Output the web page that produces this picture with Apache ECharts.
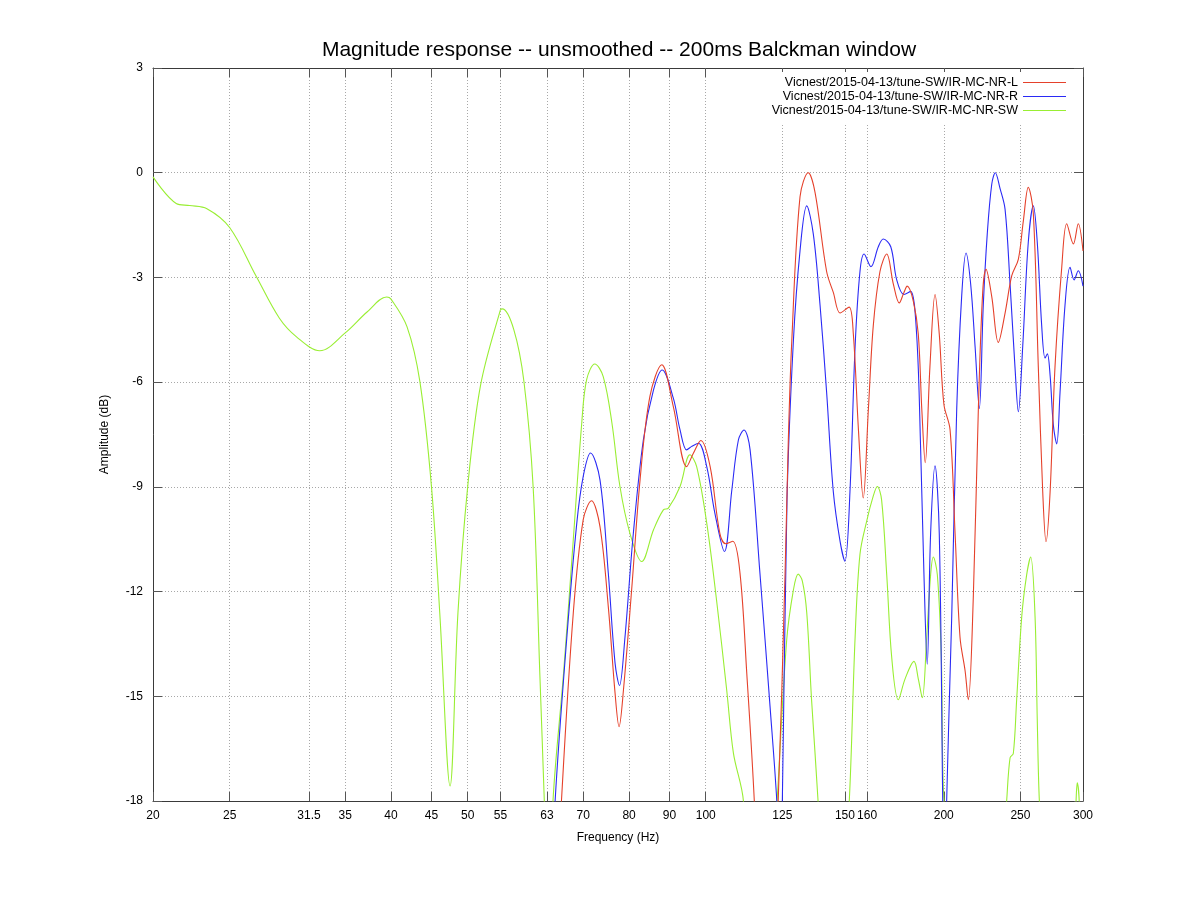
<!DOCTYPE html>
<html><head><meta charset="utf-8">
<script src="https://cdn.jsdelivr.net/npm/echarts@6/dist/echarts.min.js"></script>
<style>html,body{margin:0;padding:0;background:#fff}#c{width:1198px;height:898px}</style>
</head><body><div id="c"></div>
<script>
const titleText = 'Magnitude response -- unsmoothed -- 200ms Balckman window';
const seriesNames = ['Vicnest/2015-04-13/tune-SW/IR-MC-NR-L', 'Vicnest/2015-04-13/tune-SW/IR-MC-NR-R', 'Vicnest/2015-04-13/tune-SW/IR-MC-NR-SW'];
const seriesColors = ['#e5412b', '#2a2af5', '#99ee33'];
const xTicks = [20, 25, 31.5, 35, 40, 45, 50, 55, 63, 70, 80, 90, 100, 125, 150, 160, 200, 250, 300];

const freqL = [63.0, 65.7, 68.0, 70.0, 71.7, 73.5, 75.3, 76.8, 77.7, 78.7, 80.6, 82.6, 85.0, 88.0, 91.0, 94.6, 96.5, 98.6, 101.3, 104.2, 106.0, 108.2, 110.5, 112.7, 115.2, 119.3, 123.5, 126.0, 127.2, 128.5, 131.6, 134.8, 137.5, 142.2, 145.0, 147.9, 151.8, 153.7, 156.0, 158.2, 160.6, 162.9, 166.1, 169.4, 172.7, 175.7, 178.1, 179.8, 183.0, 185.7, 187.6, 189.5, 192.1, 195.0, 197.4, 200.1, 203.7, 206.7, 209.7, 212.8, 214.8, 218.0, 221.2, 224.0, 226.2, 230.0, 234.4, 239.1, 243.8, 248.5, 252.1, 255.8, 259.6, 263.4, 266.8, 269.4, 272.6, 276.5, 282.0, 286.1, 291.7, 295.9, 300];
const dbL = [-26, -18, -12.62, -9.94, -9.40, -10.14, -12.43, -14.91, -15.87, -14.82, -11.95, -8.80, -6.41, -5.50, -6.70, -8.42, -8.03, -7.67, -8.42, -10.33, -10.63, -10.56, -11.47, -14.34, -18, -26, -18, -11.47, -7.65, -4.79, -0.69, 0.0, -0.57, -2.83, -3.43, -4.02, -3.85, -4.62, -7.36, -9.32, -6.76, -4.38, -2.83, -2.33, -3.19, -3.73, -3.43, -3.25, -3.67, -4.62, -6.76, -8.31, -5.57, -3.49, -4.62, -6.64, -7.36, -10.33, -13.31, -14.26, -15.10, -12.12, -6.76, -3.43, -2.77, -3.55, -4.86, -4.02, -2.95, -2.48, -1.40, -0.42, -1.17, -5.57, -9.14, -10.57, -9.14, -5.57, -2.71, -1.46, -2.04, -1.46, -2.24];

const freqR = [62.0, 64.5, 66.7, 68.7, 70.0, 71.5, 73.5, 75.3, 76.8, 77.8, 79.0, 81.0, 83.4, 85.9, 88.1, 91.0, 92.8, 94.6, 96.0, 97.9, 100.3, 102.7, 105.6, 107.9, 110.0, 111.8, 113.8, 117.1, 120.6, 123.0, 124.0, 125.0, 126.7, 129.1, 131.6, 134.2, 136.8, 139.5, 142.2, 145.0, 147.9, 150.0, 152.2, 154.5, 156.7, 158.6, 161.8, 165.3, 167.7, 171.4, 174.4, 178.1, 181.6, 184.8, 187.0, 188.8, 190.6, 192.5, 195.0, 197.4, 199.4, 200.5, 201.7, 204.7, 207.7, 210.7, 213.4, 216.3, 219.1, 221.8, 224.4, 227.0, 230.0, 232.4, 235.6, 239.1, 242.6, 246.1, 248.5, 251.7, 255.8, 259.6, 262.6, 266.0, 268.6, 270.4, 272.6, 275.2, 277.9, 280.6, 284.7, 288.9, 292.3, 295.9, 300];
const dbR = [-26, -18, -13.38, -10.04, -8.70, -8.03, -8.80, -11.47, -14.05, -14.69, -13.38, -10.33, -7.65, -6.22, -5.65, -6.46, -7.37, -7.94, -7.84, -7.75, -8.42, -9.75, -10.85, -9.09, -7.65, -7.37, -7.94, -11.47, -15.29, -18, -20, -18, -9.4, -4.79, -2.24, -0.95, -1.76, -3.79, -6.29, -9.14, -10.57, -11.13, -9.14, -4.98, -2.83, -2.33, -2.69, -2.12, -1.90, -2.12, -3.07, -3.49, -3.40, -4.62, -7.95, -11.52, -14.08, -10.33, -8.40, -10.33, -18, -22, -18, -12.71, -6.76, -3.55, -2.30, -3.19, -4.98, -6.76, -3.79, -1.76, -0.33, 0.0, -0.45, -1.05, -3.19, -5.57, -6.85, -4.98, -2.00, -0.95, -2.00, -4.38, -5.31, -5.19, -5.81, -7.24, -7.77, -6.29, -3.79, -2.71, -3.07, -2.81, -3.25];

const freqSW = [20, 21.4, 22.25, 23.4, 25, 27.0, 28.9, 30.4, 32.5, 35, 37.3, 39.5, 40, 41.9, 43.5, 45, 46.1, 47.5, 48.6, 50, 51.9, 55, 55.3, 57.2, 58.9, 60.5, 61.7, 62.5, 63.3, 64.1, 66.1, 68.0, 69.7, 70.7, 72.4, 74.2, 76.1, 77.9, 80.2, 83.0, 85.9, 88.4, 89.7, 92.8, 95.5, 97.4, 100.3, 103.2, 106.3, 108.4, 111.6, 117, 123.1, 126.6, 129.1, 130.9, 132.5, 134.2, 136.1, 138.7, 145, 151.9, 154.5, 156.7, 159.8, 162.9, 164.8, 166.9, 169.4, 171.9, 175.2, 178.7, 183.4, 185.7, 187.9, 190.3, 192.5, 194.0, 196.3, 198.6, 200.1, 220, 240.2, 242.6, 244.9, 247.3, 251.0, 254.6, 257.6, 260.9, 262.6, 264.2, 280, 294.0, 295.0, 296.7, 300];
const dbSW = [-0.12, -0.88, -0.94, -1.03, -1.57, -2.96, -4.17, -4.71, -5.10, -4.59, -3.99, -3.56, -3.62, -4.41, -5.98, -9.0, -12.62, -17.57, -12.62, -9.0, -6.10, -3.93, -3.9, -4.5, -5.98, -9.0, -14.4, -18, -22, -18, -14.34, -10.52, -7.17, -5.93, -5.48, -5.84, -7.17, -8.99, -10.33, -11.14, -10.23, -9.66, -9.61, -8.99, -8.08, -8.42, -10.04, -12.24, -14.82, -16.63, -18, -26, -18, -13.38, -11.95, -11.5, -11.7, -12.6, -15.1, -18, -26, -18, -13.31, -10.93, -9.98, -9.26, -8.99, -9.38, -11.52, -13.9, -15.1, -14.5, -14.0, -14.5, -15.04, -13.31, -11.52, -11.01, -11.52, -13.9, -18, -30, -18, -16.76, -16.64, -15.1, -12.71, -11.52, -11.01, -12.71, -15.69, -18, -30, -18, -17.48, -18, -22];

const zip = (xs, ys) => xs.map((x, i) => [x, ys[i]]);
const seriesData = [zip(freqL, dbL), zip(freqR, dbR), zip(freqSW, dbSW)];

const FONT = 'Liberation Sans';
const gridColor = '#a8a8a8';
const borderColor = '#3a3a3a';

const chart = echarts.init(document.getElementById('c'), null, {renderer: 'canvas'});
chart.setOption({
  animation: false,
  backgroundColor: '#fff',
  textStyle: {fontFamily: FONT},
  title: {
    text: titleText, left: 614, top: 35, textAlign: 'center',
    textStyle: {fontFamily: FONT, fontSize: 21, fontWeight: 'normal', color: '#000'}
  },
  legend: {
    orient: 'vertical', right: 126, top: 72, align: 'right',
    backgroundColor: '#fff', padding: [4, 6, 6, 8], itemGap: 1,
    itemWidth: 43, itemHeight: 1, icon: 'rect',
    textStyle: {fontFamily: FONT, fontSize: 12.5, color: '#000'},
    data: seriesNames
  },
  grid: {left: 153, right: 115, top: 68, bottom: 97, containLabel: false},
  xAxis: [{
    type: 'log', logBase: 10, min: 20, max: 300, position: 'bottom',
    name: 'Frequency (Hz)', nameLocation: 'middle', nameGap: 31,
    nameTextStyle: {fontFamily: FONT, fontSize: 12, color: '#000'},
    axisLine: {show: true, onZero: false, lineStyle: {color: borderColor, width: 1}},
    axisTick: {show: true, inside: true, length: 9, customValues: xTicks, lineStyle: {color: '#555'}},
    axisLabel: {show: true, margin: 9, customValues: xTicks, fontFamily: FONT, fontSize: 12, color: '#000',
      formatter: v => String(v)},
    splitLine: {show: true, lineStyle: {color: gridColor, width: 1, type: [1, 2]}},
    minorTick: {show: false}
  }, {
    type: 'log', logBase: 10, min: 20, max: 300, position: 'top',
    axisLine: {show: true, onZero: false, lineStyle: {color: borderColor, width: 1}},
    axisTick: {show: true, inside: true, length: 9, customValues: xTicks, lineStyle: {color: '#555'}},
    axisLabel: {show: false},
    splitLine: {show: false}
  }],
  yAxis: [{
    type: 'value', min: -18, max: 3, interval: 3, position: 'left',
    name: 'Amplitude (dB)', nameLocation: 'middle', nameGap: 42, nameRotate: 90,
    nameTextStyle: {fontFamily: FONT, fontSize: 12, color: '#000'},
    axisLine: {show: true, onZero: false, lineStyle: {color: borderColor, width: 1}},
    axisTick: {show: true, inside: true, length: 9, lineStyle: {color: '#555'}},
    axisLabel: {show: true, margin: 10, fontFamily: FONT, fontSize: 12, color: '#000'},
    splitLine: {show: true, lineStyle: {color: gridColor, width: 1, type: [1, 2]}}
  }, {
    type: 'value', min: -18, max: 3, interval: 3, position: 'right',
    axisLine: {show: true, onZero: false, lineStyle: {color: borderColor, width: 1}},
    axisTick: {show: true, inside: true, length: 9, lineStyle: {color: '#555'}},
    axisLabel: {show: false},
    splitLine: {show: false}
  }],
  series: seriesNames.map((name, i) => ({
    name: name, type: 'line', xAxisIndex: 0, yAxisIndex: 0,
    data: seriesData[i], smooth: 0.35, showSymbol: false, symbol: 'none',
    clip: true, z: 3 - i + 2,
    lineStyle: {color: seriesColors[i], width: 1.1},
    itemStyle: {color: seriesColors[i]}
  }))
});
</script></body></html>
